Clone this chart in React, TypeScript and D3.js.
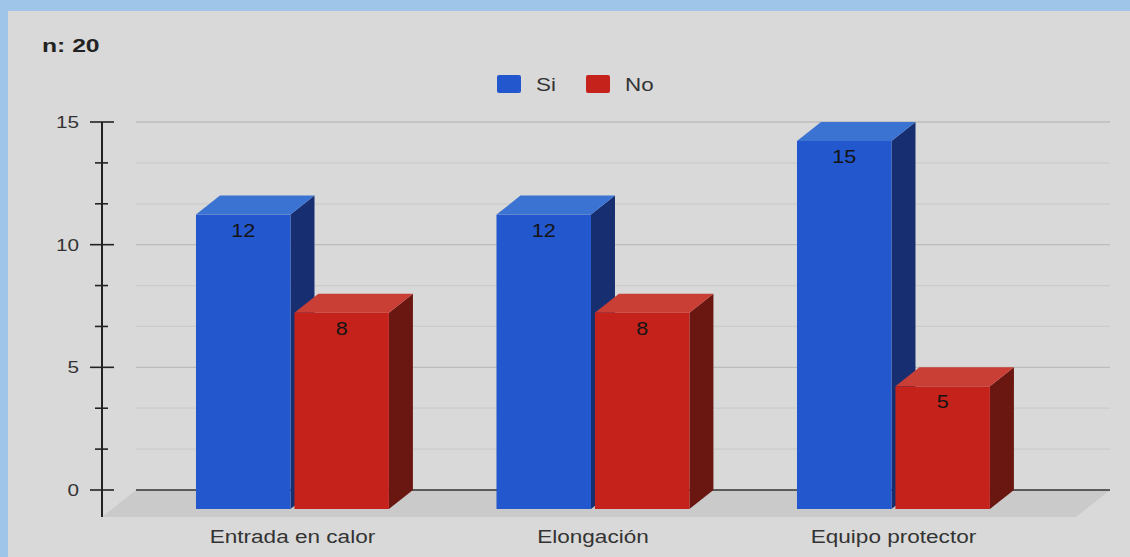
import React from "react";
import * as d3 from "d3";

const categories = ["Entrada en calor", "Elongación", "Equipo protector"];
const seriesNames = ["Si", "No"];
const siValues = [12, 12, 15];
const noValues = [8, 8, 5];
const yTicksMajor = [0, 5, 10, 15];
const title = "n: 20";

const W = 1130;
const H = 557;
const FONT = "'Liberation Sans', Arial, sans-serif";
const SX = 1.25;

const colors: Record<string, { front: string; top: string; side: string }> = {
  Si: { front: "#2357cd", top: "#3b73d3", side: "#172f70" },
  No: { front: "#c5221c", top: "#c93e35", side: "#6a1611" },
};

export default function App() {
  const y = d3.scaleLinear().domain([0, 15]).range([490, 122]);
  const x = d3
    .scaleBand<string>()
    .domain(categories)
    .range([142.2, 1043.7])
    .paddingInner(0.358)
    .paddingOuter(0.179);
  const xs = d3
    .scaleBand<string>()
    .domain(seriesNames)
    .range([0, x.bandwidth()])
    .paddingInner(0.04);

  const dx = 24;
  const dy = 19;
  const fdx = 34;
  const fdy = 27;
  const y0 = y(0);
  const gridLeft = 136;
  const gridRight = 1110;

  const minorTicks = d3.range(0, 15.001, 5 / 3);

  const data = seriesNames.map((s, si) => ({
    name: s,
    values: si === 0 ? siValues : noValues,
  }));

  const stretchText = (
    tx: number,
    ty: number,
    txt: string,
    opts: { size: number; anchor?: string; weight?: string; fill?: string; sx?: number }
  ) => (
    <text
      transform={`translate(${tx},${ty}) scale(${opts.sx ?? SX},1)`}
      textAnchor={opts.anchor ?? "start"}
      fontSize={opts.size}
      fontWeight={opts.weight ?? "normal"}
      fill={opts.fill ?? "#222"}
      fontFamily={FONT}
    >
      {txt}
    </text>
  );

  return (
    <svg
      width={W}
      height={H}
      style={{ position: "absolute", left: 0, top: 0, display: "block" }}
    >
      <rect x={0} y={0} width={W} height={H} fill="#9fc5e8" />
      <rect x={8} y={11} width={W - 8} height={H - 11} fill="#d9d9d9" />

      {/* floor */}
      <polygon
        points={`${gridLeft},${y0} ${gridRight},${y0} ${gridRight - fdx},${y0 + fdy} ${gridLeft - fdx},${y0 + fdy}`}
        fill="#cacaca"
      />

      {/* gridlines */}
      {minorTicks.map((t, i) => (
        <line
          key={"g" + i}
          x1={gridLeft}
          x2={gridRight}
          y1={y(t)}
          y2={y(t)}
          stroke={i === 0 ? "#333" : i % 3 === 0 ? "#bcbcbc" : "#cbcbcb"}
          strokeWidth={i === 0 ? 1.6 : 1.3}
        />
      ))}

      {/* y axis */}
      <line x1={102} x2={102} y1={y(15)} y2={y0 + fdy} stroke="#222" strokeWidth={2} />
      {minorTicks.map((t, i) => {
        const major = i % 3 === 0;
        return (
          <line
            key={"t" + i}
            x1={major ? 90 : 95}
            x2={major ? 114 : 108}
            y1={y(t)}
            y2={y(t)}
            stroke="#222"
            strokeWidth={1.6}
          />
        );
      })}
      {yTicksMajor.map((t) => (
        <React.Fragment key={"yl" + t}>
          {stretchText(79, y(t) + 6, String(t), { size: 17, anchor: "end", fill: "#333", sx: 1.22 })}
        </React.Fragment>
      ))}

      {/* bars */}
      {categories.map((c, ci) => (
        <g key={c}>
          {data.map((s) => {
            const v = s.values[ci];
            const x0 = (x(c) ?? 0) + (xs(s.name) ?? 0);
            const x1 = x0 + xs.bandwidth();
            const yt = y(v) + dy;
            const yb = y0 + dy;
            const col = colors[s.name];
            return (
              <g key={s.name}>
                <polygon
                  points={`${x1},${yt} ${x1 + dx},${yt - dy} ${x1 + dx},${yb - dy} ${x1},${yb}`}
                  fill={col.side}
                />
                <polygon
                  points={`${x0},${yt} ${x0 + dx},${yt - dy} ${x1 + dx},${yt - dy} ${x1},${yt}`}
                  fill={col.top}
                />
                <rect x={x0} y={yt} width={x1 - x0} height={yb - yt} fill={col.front} />
                {stretchText((x0 + x1) / 2, yt + 22, String(v), {
                  size: 18,
                  anchor: "middle",
                  fill: "#141414",
                  sx: 1.2,
                })}
              </g>
            );
          })}
          {stretchText((x(c) ?? 0) + x.bandwidth() / 2, 543, c, {
            size: 18.5,
            anchor: "middle",
            fill: "#333",
            sx: 1.22,
          })}
        </g>
      ))}

      {/* legend */}
      <rect x={497} y={75} width={24} height={18} rx={2} fill={colors.Si.front} />
      {stretchText(536, 90.5, "Si", { size: 17.5, fill: "#333", sx: 1.28 })}
      <rect x={586} y={75} width={24} height={18} rx={2} fill={colors.No.front} />
      {stretchText(625, 90.5, "No", { size: 17.5, fill: "#333", sx: 1.28 })}

      {/* title */}
      {stretchText(42, 52, title, { size: 19, weight: "bold", fill: "#222", sx: 1.3 })}
    </svg>
  );
}
